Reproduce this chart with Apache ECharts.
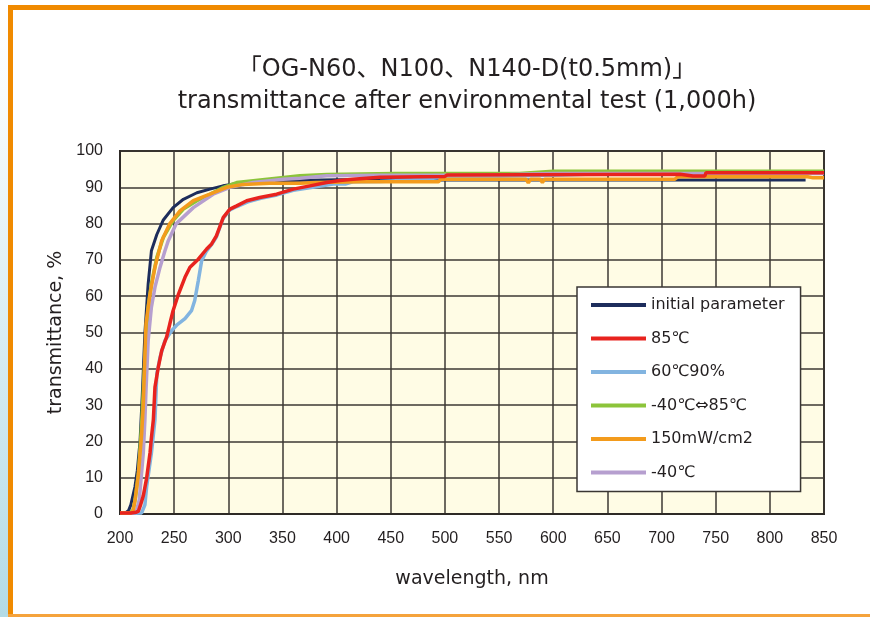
<!DOCTYPE html>
<html>
<head>
<meta charset="utf-8">
<script src="https://cdn.jsdelivr.net/npm/echarts@6/dist/echarts.min.js"></script>
<style>
html,body{margin:0;padding:0;background:#fff;}
#chart{width:870px;height:617px;}
</style>
</head>
<body>
<div id="chart"></div>
<script>
// ---- data (wavelength nm, transmittance %) ----
const seriesNames = ['initial parameter', '85\u2103', '60\u2103' + '90%', '-40\u2103\u21d485\u2103', '150mW/cm2', '-40\u2103'];

const initialParameter = [[200,0.2],[205,0.3],[208,1],[210,2.5],[213.8,7.5],[216,12],[218.5,20],[220.6,33],[223,50],[226,63.4],[229,72.5],[234,77],[240,81],[249,84.4],[258.5,86.7],[271,88.5],[283,89.5],[295,90.4],[310,91.1],[330,91.6],[360,91.9],[400,92.1],[450,92.1],[470,92.0],[500,92.0],[580,92.0],[700,92.0],[833,92.0]];

const t85C = [[200,0.3],[210,0.3],[215,0.5],[217,0.8],[219,2.5],[221.5,5],[224.6,9.9],[227.7,16.8],[229,21],[230.8,26],[232.3,35],[235.4,40.5],[238.5,45],[243,48.7],[246,52.4],[249,56],[254,60.6],[260,65.2],[264.6,68],[272.3,70.2],[280,73],[284.6,74.4],[289,76.6],[295.4,81.7],[301.5,84],[307.7,84.9],[317,86.3],[329,87.2],[344.6,88.1],[360,89.5],[375.4,90.4],[390.8,91.3],[403,91.9],[415,92.2],[440,92.8],[500,93.0],[502,93.4],[717,93.6],[729,93.1],[740,93.1],[741,94.0],[850,94.0]];

const t60C90 = [[200,0.2],[215,0.2],[220,0.3],[221.5,0.5],[223,2.5],[224.6,7.5],[229,16.8],[232.3,26],[234,38.6],[237,43.2],[241.5,47.8],[247.7,50.5],[252.3,52],[260,53.8],[266,56],[269,58.8],[272.3,64.3],[275.4,69.8],[280,72.5],[285,74.4],[289,76.3],[295,81.3],[301,83.7],[308,84.7],[318,86],[330,87],[345,87.9],[360,89.2],[375,89.9],[397,90.9],[408,90.9],[415,91.5],[440,91.6],[470,92.0],[500,92.8],[600,93.3],[630,93.6],[634,94.3],[717,94.3],[735,93.8],[742,93.8],[760,93.9],[850,93.9]];

const cycle40to85 = [[200,0.3],[209,0.3],[212,1],[214,4],[217,11],[220,25],[223,43],[226,57],[229,63.4],[234,70.7],[240,76.2],[249,80.8],[258.5,84],[271,86.3],[283,88.1],[295.4,90],[307.7,91.3],[323,91.8],[344.6,92.5],[366,93.2],[391,93.5],[454,93.8],[569,93.8],[600,94.4],[850,94.4]];

const uv150 = [[200,0.3],[210,0.3],[212,0.8],[214,4],[217,11],[220,22],[221.5,30],[224,52.4],[227.7,60.6],[232.3,68],[238.5,75.3],[246,80],[255.4,83.5],[267.7,86.3],[283,88.1],[298.5,90],[313.8,90.8],[338,91.1],[366,91.1],[381,91.3],[423,91.5],[494,91.5],[496,92.2],[575,92.2],[577,91.2],[579,92.2],[588,92.2],[590,91.3],[592,92.2],[712,92.2],[715,92.9],[835,92.9],[840,92.6],[850,92.6]];

const minus40C = [[200,0.3],[212,0.3],[215,0.8],[217.8,3.9],[221.5,16.8],[223,26],[224,34],[226,47.8],[229,57],[232.3,62.5],[237,68],[241.5,72.5],[244.6,75.3],[252,80],[267.7,84.4],[286,88.1],[301.5,90],[323,91.3],[350.8,92.2],[366,92.5],[391,93.2],[440,93.3],[520,93.3],[560,93.5],[600,93.8],[850,93.8]];

const seriesColors = ['#1d2d5c', '#e8231e', '#82b4e0', '#8cc43a', '#f39b1c', '#b69fcf'];
const xTicks = {min: 200, max: 850, step: 50};
const yTicks = {min: 0, max: 100, step: 10};

// ---- chart ----
const chart = echarts.init(document.getElementById('chart'), null, {renderer: 'canvas'});
const dataSets = [initialParameter, t85C, t60C90, cycle40to85, uv150, minus40C];
const drawOrder = [0, 2, 3, 5, 4, 1];
const textColor = '#231f20';
const fontTxt = '"DejaVu Sans", "Noto Sans CJK JP", sans-serif';

const series = drawOrder.map(i => ({
  name: seriesNames[i],
  type: 'line',
  data: dataSets[i],
  showSymbol: false,
  symbol: 'none',
  color: seriesColors[i],
  lineStyle: {width: i === 0 ? 3 : 3.5, color: seriesColors[i]},
  animation: false
}));

chart.setOption({
  animation: false,
  title: {
    text: '\u300cOG-N60\u3001N100\u3001N140-D(t0.5mm)\u300d\ntransmittance after environmental test (1,000h)',
    left: 467,
    textAlign: 'center',
    top: 54,
    padding: 0,
    textStyle: {fontFamily: fontTxt, fontSize: 24, fontWeight: 'normal', color: textColor, lineHeight: 32}
  },
  graphic: [
    {type: 'rect', shape: {x: 0, y: 0, width: 8, height: 617}, style: {fill: new echarts.graphic.LinearGradient(0, 0, 0, 1, [{offset: 0, color: '#ffffff'}, {offset: 0.15, color: '#f8fcfd'}, {offset: 0.55, color: '#d8edf3'}, {offset: 1, color: '#b3dbe6'}])}, silent: true, z: 100},
    {type: 'rect', shape: {x: 8, y: 5, width: 862, height: 5}, style: {fill: '#f08a00'}, silent: true, z: 100},
    {type: 'rect', shape: {x: 8, y: 5, width: 5, height: 612}, style: {fill: '#f08a00'}, silent: true, z: 100},
    {type: 'rect', shape: {x: 8, y: 614, width: 862, height: 3}, style: {fill: '#f5a33c'}, silent: true, z: 100}
  ],
  grid: {
    left: 120, right: 46, top: 151, bottom: 103,
    show: true, backgroundColor: '#fffce5', borderColor: '#2e2a26', borderWidth: 2
  },
  legend: {
    data: seriesNames,
    orient: 'vertical',
    left: 577, top: 287,
    backgroundColor: '#ffffff',
    borderColor: '#3a3633', borderWidth: 1.5,
    padding: [8, 16, 9, 14],
    itemWidth: 55, itemHeight: 4, itemGap: 13.5,
    icon: 'rect',
    textStyle: {fontFamily: fontTxt, fontSize: 16, color: textColor, lineHeight: 20}
  },
  xAxis: {
    type: 'value',
    min: xTicks.min, max: xTicks.max, interval: xTicks.step,
    name: 'wavelength, nm', nameLocation: 'middle', nameGap: 56,
    nameTextStyle: {fontFamily: fontTxt, fontSize: 19, color: textColor},
    axisLine: {show: true, lineStyle: {color: '#2e2a26', width: 2}},
    axisTick: {show: false},
    axisLabel: {margin: 17, fontFamily: '"Liberation Sans", Arial, sans-serif', fontSize: 16, color: textColor},
    splitLine: {show: true, lineStyle: {color: '#3d3833', width: 1.5}}
  },
  yAxis: {
    type: 'value',
    min: yTicks.min, max: yTicks.max, interval: yTicks.step,
    name: 'transmittance, %', nameLocation: 'middle', nameGap: 50,
    nameTextStyle: {fontFamily: fontTxt, fontSize: 19, color: textColor},
    axisLine: {show: true, lineStyle: {color: '#2e2a26', width: 2}},
    axisTick: {show: false},
    axisLabel: {margin: 17, fontFamily: '"Liberation Sans", Arial, sans-serif', fontSize: 16, color: textColor},
    splitLine: {show: true, lineStyle: {color: '#3d3833', width: 1.5}}
  },
  series: series
});
</script>
</body>
</html>
